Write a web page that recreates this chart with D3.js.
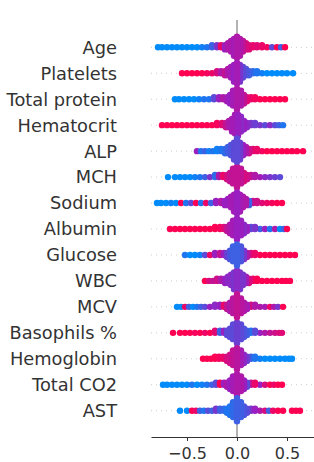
<!DOCTYPE html>
<html lang="en">
  <head>
    <meta charset="UTF-8" />
    <title>SHAP summary – beeswarm</title>
    <script src="https://d3js.org/d3.v7.min.js"></script>
    <style>
      body {
        margin: 0;
        background: #fff;
        font-family: 'DejaVu Sans', sans-serif;
      }
      .feat-label {
        fill: #333;
        font-size: 17.8px;
      }
      .axis text {
        fill: #333;
        font-size: 16px;
        font-family: 'DejaVu Sans', sans-serif;
      }
      .axis path,
      .axis line {
        stroke: #333;
      }
      .grid {
        stroke: #ccc;
        stroke-dasharray: 1, 4;
      }
    </style>
  </head>
  <body>
    <div id="chart"></div>

    <script>
      // feature names, top to bottom
      const features = [
        'Age', 'Platelets', 'Total protein', 'Hematocrit', 'ALP', 'MCH',
        'Sodium', 'Albumin', 'Glucose', 'WBC', 'MCV', 'Basophils %',
        'Hemoglobin', 'Total CO2', 'AST'
      ];

      const xTicks = [-0.5, 0.0, 0.5];

      // each entry: [shap value, number of stacked dots, feature value 0 (low) .. 1 (high)]
      const age = [
        [-0.79,1,0],[-0.75,1,0],[-0.70,1,0],[-0.65,1,0],[-0.60,1,0],[-0.55,1,0],[-0.50,1,0],
        [-0.45,1,0],[-0.40,1,0],[-0.35,1,0.05],[-0.30,1,0.1],[-0.25,2,0.2],[-0.20,2,0.4],
        [-0.16,2,0.9],[-0.12,3,0.5],[-0.09,4,0.6],[-0.06,6,0.6],[-0.03,9,0.55],[0,11,0.6],
        [0.03,9,0.6],[0.06,6,0.7],[0.09,4,0.8],[0.12,3,0.85],[0.16,2,0.9],[0.20,2,0.85],
        [0.25,2,0.9],[0.30,1,0.95],[0.35,1,0.3],[0.40,1,1],[0.44,1,0.2],[0.48,1,1]
      ];
      const platelets = [
        [-0.55,1,1],[-0.50,1,1],[-0.45,1,1],[-0.40,1,1],[-0.35,1,1],[-0.30,1,0.95],[-0.25,1,0.9],
        [-0.20,2,0.8],[-0.16,2,0.6],[-0.12,3,0.7],[-0.09,4,0.6],[-0.06,6,0.55],[-0.03,9,0.5],
        [0,11,0.55],[0.03,9,0.4],[0.06,6,0.3],[0.09,4,0.25],[0.12,3,0.2],[0.16,2,0.15],
        [0.20,2,0.1],[0.25,1,0.05],[0.30,1,0],[0.35,1,0],[0.40,1,0],[0.45,1,0],[0.50,1,0],[0.56,1,0]
      ];
      const totalProtein = [
        [-0.62,1,0],[-0.58,1,0],[-0.53,1,0],[-0.48,1,0],[-0.43,1,0],[-0.38,1,0.05],[-0.33,1,0.1],
        [-0.28,1,0.1],[-0.23,2,0.3],[-0.18,2,0.5],[-0.14,2,0.6],[-0.10,3,0.55],[-0.07,5,0.5],
        [-0.04,8,0.55],[0,11,0.6],[0.04,8,0.6],[0.07,5,0.7],[0.10,3,0.85],[0.14,2,0.9],
        [0.18,2,0.95],[0.23,1,1],[0.28,1,1],[0.33,1,1],[0.38,1,1],[0.43,1,1],[0.48,1,1]
      ];
      const hematocrit = [
        [-0.75,1,1],[-0.70,1,1],[-0.65,1,1],[-0.60,1,1],[-0.55,1,1],[-0.50,1,1],[-0.45,1,1],
        [-0.40,1,1],[-0.35,1,1],[-0.30,1,1],[-0.25,1,1],[-0.20,2,0.95],[-0.15,2,0.85],
        [-0.11,3,0.7],[-0.08,4,0.6],[-0.05,7,0.55],[-0.02,10,0.55],[0.01,11,0.5],[0.04,8,0.45],
        [0.07,5,0.5],[0.10,3,0.45],[0.14,2,0.4],[0.18,2,0.35],[0.23,1,0.4],[0.28,1,0.3],
        [0.33,1,0.45],[0.38,1,0.3],[0.42,1,0.2],[0.46,1,0.1]
      ];
      const alp = [
        [-0.40,1,0.5],[-0.36,1,0.1],[-0.32,1,0.2],[-0.28,1,0.05],[-0.24,1,0.1],[-0.20,2,0.05],
        [-0.16,2,0.1],[-0.12,3,0.15],[-0.09,4,0.2],[-0.06,6,0.25],[-0.03,9,0.3],[0,12,0.3],
        [0.03,9,0.35],[0.06,6,0.5],[0.09,4,0.6],[0.12,3,0.75],[0.16,2,0.85],[0.20,2,0.9],
        [0.25,1,0.95],[0.30,1,1],[0.35,1,1],[0.40,1,1],[0.45,1,1],[0.50,1,1],[0.55,1,1],
        [0.60,1,1],[0.66,1,1]
      ];
      const mch = [
        [-0.69,1,0],[-0.62,1,0],[-0.57,1,0],[-0.52,1,0],[-0.47,1,0],[-0.42,1,0.05],[-0.37,1,0.1],
        [-0.32,1,0.2],[-0.27,1,0.4],[-0.22,2,0.15],[-0.18,2,0.6],[-0.14,2,0.9],[-0.10,3,0.8],
        [-0.07,5,0.7],[-0.04,8,0.7],[0,11,0.7],[0.04,8,0.7],[0.07,5,0.8],[0.10,3,0.75],
        [0.14,2,0.7],[0.18,2,0.6],[0.23,1,0.55],[0.28,1,0.45],[0.33,1,0.4],[0.38,1,0.35],[0.43,1,0.3]
      ];
      const sodium = [
        [-0.80,1,0],[-0.76,1,0],[-0.71,1,0],[-0.66,1,0.05],[-0.61,1,0],[-0.56,1,1],[-0.51,1,0.1],
        [-0.46,1,0.3],[-0.41,1,1],[-0.36,1,0.1],[-0.31,1,0.9],[-0.26,1,0.2],[-0.21,2,0.5],
        [-0.16,2,0.6],[-0.12,3,0.5],[-0.09,4,0.5],[-0.06,6,0.55],[-0.03,9,0.55],[0,11,0.5],
        [0.03,9,0.55],[0.06,6,0.6],[0.09,4,0.6],[0.12,3,0.2],[0.16,2,0.7],[0.20,2,0.75],
        [0.25,1,0.85],[0.30,1,0.9],[0.35,1,0.95],[0.40,1,1],[0.45,1,1]
      ];
      const albumin = [
        [-0.67,1,1],[-0.62,1,1],[-0.57,1,1],[-0.52,1,1],[-0.47,1,1],[-0.42,1,1],[-0.37,1,1],
        [-0.32,1,1],[-0.27,1,1],[-0.22,2,1],[-0.17,2,0.95],[-0.13,2,0.85],[-0.10,3,0.7],
        [-0.07,5,0.6],[-0.04,8,0.55],[0,11,0.5],[0.04,8,0.5],[0.07,5,0.45],[0.10,3,0.5],
        [0.14,2,0.3],[0.18,2,0.4],[0.23,1,0.2],[0.28,1,0.5],[0.33,1,0.1],[0.38,1,0.6],
        [0.43,1,0],[0.47,1,0.2],[0.50,1,1]
      ];
      const glucose = [
        [-0.52,1,0.1],[-0.47,1,0],[-0.42,1,0],[-0.37,1,0.05],[-0.32,1,0.3],[-0.27,1,0.9],
        [-0.22,2,0.5],[-0.17,2,0.7],[-0.13,2,0.5],[-0.10,3,0.35],[-0.07,5,0.25],[-0.04,8,0.2],
        [0,11,0.2],[0.04,8,0.25],[0.07,5,0.4],[0.10,3,0.6],[0.14,2,0.8],[0.18,2,0.9],[0.23,1,1],
        [0.28,1,1],[0.33,1,1],[0.38,1,1],[0.43,1,1],[0.48,1,1],[0.53,1,1],[0.58,1,1]
      ];
      const wbc = [
        [-0.32,1,1],[-0.28,1,0.8],[-0.24,1,0.7],[-0.20,2,0.75],[-0.16,2,0.6],[-0.12,3,0.5],
        [-0.09,4,0.45],[-0.06,6,0.45],[-0.03,9,0.4],[0,10,0.45],[0.03,9,0.4],[0.06,6,0.4],
        [0.09,4,0.55],[0.12,3,0.8],[0.16,2,0.9],[0.20,2,1],[0.25,1,1],[0.30,1,1],[0.35,1,1],
        [0.40,1,1],[0.45,1,1],[0.49,1,1],[0.53,1,1]
      ];
      const mcv = [
        [-0.60,1,0],[-0.56,1,0],[-0.52,1,0.9],[-0.48,1,0.2],[-0.44,1,0],[-0.40,1,0.1],
        [-0.36,1,0.2],[-0.32,1,0.3],[-0.27,1,0.5],[-0.22,2,0.45],[-0.17,2,0.5],[-0.13,2,0.9],
        [-0.10,3,0.7],[-0.07,5,0.6],[-0.04,8,0.65],[0,12,0.7],[0.04,8,0.65],[0.07,5,0.6],
        [0.10,3,0.55],[0.14,2,0.8],[0.18,2,0.6],[0.23,1,0.6],[0.28,1,0.55],[0.33,1,0.9],
        [0.37,1,0.6],[0.41,1,0.4],[0.46,1,1]
      ];
      const basophils = [
        [-0.64,1,1],[-0.57,1,1],[-0.52,1,1],[-0.47,1,1],[-0.42,1,0.95],[-0.37,1,1],[-0.32,1,0.9],
        [-0.27,1,1],[-0.22,2,0.85],[-0.17,2,0.2],[-0.13,2,0.5],[-0.10,3,0.3],[-0.07,5,0.3],
        [-0.04,8,0.3],[0,11,0.35],[0.04,8,0.3],[0.07,5,0.25],[0.10,3,0.2],[0.14,2,0.1],
        [0.18,2,0.3],[0.23,1,0.5],[0.28,1,0.6],[0.33,1,0.7],[0.38,1,0.75],[0.42,1,0.8],[0.45,1,0.85]
      ];
      const hemoglobin = [
        [-0.34,1,1],[-0.30,1,1],[-0.26,1,1],[-0.22,2,1],[-0.18,2,0.95],[-0.14,2,0.9],[-0.10,3,0.8],
        [-0.07,5,0.75],[-0.04,8,0.7],[0,11,0.65],[0.04,8,0.55],[0.07,5,0.45],[0.10,3,0.35],
        [0.14,2,0.2],[0.18,2,0.1],[0.23,1,0.05],[0.28,1,0],[0.33,1,0],[0.38,1,0],[0.43,1,0],
        [0.48,1,0],[0.52,1,0],[0.55,1,0]
      ];
      const totalCO2 = [
        [-0.74,1,0],[-0.70,1,0],[-0.65,1,0],[-0.60,1,0],[-0.55,1,0],[-0.50,1,0],[-0.45,1,0.1],
        [-0.40,1,0],[-0.35,1,0.05],[-0.30,1,0.1],[-0.25,1,0.2],[-0.21,2,0.3],[-0.17,2,1],
        [-0.13,2,0.5],[-0.10,3,0.6],[-0.07,5,0.5],[-0.04,8,0.55],[0,11,0.6],[0.04,8,0.6],
        [0.07,5,0.5],[0.10,3,0.3],[0.14,2,0.7],[0.18,2,0.9],[0.23,1,0.5],[0.28,1,0.8],
        [0.33,1,1],[0.37,1,0.9],[0.41,1,1],[0.45,1,1]
      ];
      const ast = [
        [-0.57,1,0],[-0.50,1,0],[-0.45,1,1],[-0.41,1,0.9],[-0.37,1,0.2],[-0.33,1,0.1],
        [-0.29,1,0.3],[-0.25,1,0.2],[-0.21,2,0.4],[-0.17,2,0.2],[-0.13,2,0.15],[-0.10,3,0.1],
        [-0.07,5,0.1],[-0.04,8,0.15],[0,12,0.2],[0.04,8,0.2],[0.07,5,0.25],[0.10,3,0.3],
        [0.14,2,0.4],[0.18,2,0.5],[0.23,1,0.6],[0.28,1,0.8],[0.32,1,0.2],[0.36,1,0.9],
        [0.41,1,1],[0.46,1,1],[0.55,1,1],[0.59,1,1],[0.63,1,1]
      ];

      const rows = [
        age, platelets, totalProtein, hematocrit, alp, mch, sodium, albumin,
        glucose, wbc, mcv, basophils, hemoglobin, totalCO2, ast
      ];

      const width = 314,
        height = 462;
      const axisY = 437;
      const dotR = 3.2,
        stackStep = 2.1;

      const svg = d3
        .select('#chart')
        .append('svg')
        .attr('width', width)
        .attr('height', height);

      const x = d3.scaleLinear().domain([-0.86, 0.77]).range([151, 314]);
      const y = d3
        .scalePoint()
        .domain(features)
        .range([47.3, 410.7]);

      // SHAP style blue -> purple -> red
      const color = d3
        .scaleLinear()
        .domain([0, 0.5, 1])
        .range(['#008bfb', '#9a1fc0', '#ff0052']);

      // dotted row guides
      svg
        .selectAll('line.grid')
        .data(features)
        .join('line')
        .attr('class', 'grid')
        .attr('x1', x.range()[0])
        .attr('x2', x.range()[1])
        .attr('y1', (d) => y(d))
        .attr('y2', (d) => y(d));

      // zero line
      svg
        .append('line')
        .attr('x1', x(0))
        .attr('x2', x(0))
        .attr('y1', 20)
        .attr('y2', axisY)
        .attr('stroke', '#999')
        .attr('stroke-width', 1.5);

      // expand each bin into stacked dots (centre, up, down, up, ...)
      const dots = [];
      rows.forEach((bins, i) => {
        bins.forEach(([s, n, c]) => {
          for (let j = 0; j < n; j++) {
            const layer = Math.ceil(j / 2) * (j % 2 === 1 ? -1 : 1);
            dots.push({ feat: features[i], s, c, off: layer * stackStep, n });
          }
        });
      });
      dots.sort((a, b) => a.n - b.n);

      svg
        .append('g')
        .selectAll('circle')
        .data(dots)
        .join('circle')
        .attr('cx', (d) => x(d.s))
        .attr('cy', (d) => y(d.feat) + d.off)
        .attr('r', dotR)
        .attr('fill', (d) => color(d.c));

      // feature labels
      svg
        .append('g')
        .selectAll('text')
        .data(features)
        .join('text')
        .attr('class', 'feat-label')
        .attr('x', 117)
        .attr('y', (d) => y(d))
        .attr('dy', '0.36em')
        .attr('text-anchor', 'end')
        .text((d) => d);

      // x axis
      const axis = d3
        .axisBottom(x)
        .tickValues(xTicks)
        .tickFormat((d) => d3.format('.1f')(d).replace('-', '\u2212'))
        .tickSize(4)
        .tickSizeOuter(0);
      const gx = svg
        .append('g')
        .attr('class', 'axis')
        .attr('transform', `translate(0,${axisY})`)
        .call(axis);
      gx.select('.domain').attr('stroke-width', 1.2);
      gx.selectAll('text').attr('dy', '0.95em');
    </script>
  </body>
</html>
